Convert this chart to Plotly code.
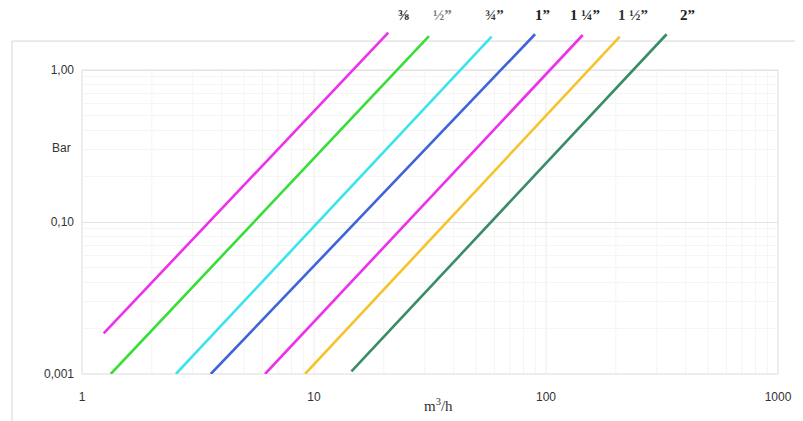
import math
import plotly.graph_objects as go

# ---- data ----
sizes = ["⅜", "½”", "¾”", "1”", "1 ¼”", "1 ½”", "2”"]
x_start = [1.24, 1.33, 2.54, 3.59, 6.15, 9.15, 14.5]
y_start = [0.0185, 0.01, 0.01, 0.01, 0.01, 0.01, 0.0104]
x_end = [20.9, 31.3, 58.3, 89.7, 144, 208, 331]
y_end = [1.76, 1.67, 1.66, 1.72, 1.70, 1.66, 1.72]
colors = ["#ee30ea", "#38de38", "#3ae4ec", "#3f63d8", "#ee30ea", "#f5c42c", "#3a8c66"]

y_tickvals = [0.01, 0.1, 1]
y_ticktext = ["0,001", "0,10", "1,00"]
x_tickvals = [1, 10, 100, 1000]
x_ticktext = ["1", "10", "100", "1000"]

label_shift = [15, 14, 3, 7, 2, 13, 21]
label_colors = ["#222", "#777", "#333", "#222", "#222", "#333", "#222"]

fig = go.Figure()
for i, name in enumerate(sizes):
    fig.add_trace(go.Scatter(
        x=[x_start[i], x_end[i]], y=[y_start[i], y_end[i]],
        mode="lines", name=name,
        line=dict(color=colors[i], width=2.6),
        showlegend=False, hoverinfo="x+y+name",
    ))

y_lo, y_hi = -2.0, 0.27
def ydom(v):
    return (math.log10(v) - y_lo) / (y_hi - y_lo)
def xdom(v):
    return math.log10(v) / 3.0

top_frame = ydom(1)
shapes = []
# faint vertical grid lines inside the plot frame
for dec in [1, 10, 100]:
    for m in range(2, 11):
        v = dec * m
        if v >= 1000:
            continue
        major = (m == 10)
        shapes.append(dict(type="line", xref="x domain", yref="y domain",
                           x0=xdom(v), x1=xdom(v), y0=0, y1=top_frame,
                           line=dict(color="#ececec" if major else "#f5f5f5", width=1),
                           layer="below"))
# plot frame
shapes.append(dict(type="rect", xref="x domain", yref="y domain",
                   x0=0, x1=1, y0=0, y1=top_frame,
                   line=dict(color="#dcdcdc", width=1), layer="below"))
# outer chart frame
shapes.append(dict(type="rect", xref="paper", yref="paper",
                   x0=-0.1006, x1=1.2, y0=-0.3, y1=0.965,
                   line=dict(color="#d6d6d6", width=1), layer="below"))

annotations = []
for i, name in enumerate(sizes):
    annotations.append(dict(
        x=math.log10(x_end[i]), xref="x", y=1.0406, yref="paper",
        xshift=label_shift[i], text="<b>%s</b>" % name, showarrow=False,
        font=dict(family="Liberation Serif, Times New Roman, serif", size=15,
                  color=label_colors[i]),
        xanchor="center", yanchor="middle",
    ))
annotations.append(dict(x=-0.013, xref="paper", y=0.655, yref="paper",
                        text="Bar", showarrow=False, xanchor="right", yanchor="middle",
                        font=dict(family="Liberation Sans, Arial, sans-serif", size=12, color="#333")))
annotations.append(dict(x=0.5115, xref="paper", y=-0.09, yref="paper",
                        text="m<sup>3</sup>/h", showarrow=False, xanchor="center", yanchor="middle",
                        font=dict(family="Liberation Serif, Times New Roman, serif", size=15, color="#333")))

fig.update_layout(
    width=795, height=413,
    margin=dict(l=74, r=25, t=21, b=47),
    paper_bgcolor="white", plot_bgcolor="white",
    shapes=shapes, annotations=annotations,
    xaxis=dict(type="log", range=[0, 3], tickvals=x_tickvals, ticktext=x_ticktext,
               showgrid=False, zeroline=False, showline=False,
               ticklabelstandoff=14,
               tickfont=dict(family="Liberation Sans, Arial, sans-serif", size=12, color="#333")),
    yaxis=dict(type="log", range=[y_lo, y_hi], tickvals=y_tickvals, ticktext=y_ticktext,
               showgrid=True, gridcolor="#e4e4e4", zeroline=False, showline=False,
               ticklabelstandoff=7,
               minor=dict(tickvals=[0.02, 0.03, 0.04, 0.05, 0.06, 0.07, 0.08, 0.09,
                                    0.2, 0.3, 0.4, 0.5, 0.6, 0.7, 0.8, 0.9],
                          showgrid=True, gridcolor="#f5f5f5", ticks=""),
               tickfont=dict(family="Liberation Sans, Arial, sans-serif", size=12, color="#333")),
)

fig.write_html("out.html")
